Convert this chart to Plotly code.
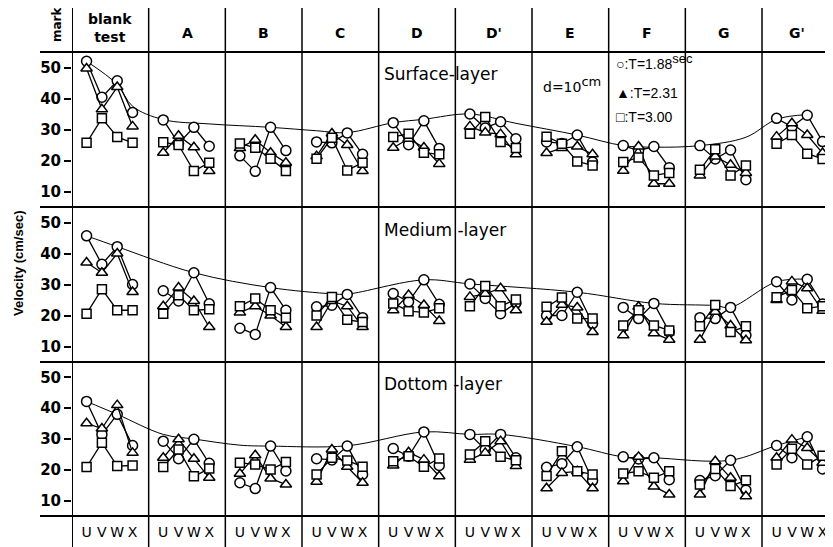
import plotly.graph_objects as go

W, H = 833, 547
PAGE_MARGIN = 8  # default body margin of the html page

# ---------------- data ----------------
columns = ["blank<br>test", "A", "B", "C", "D", "D'", "E", "F", "G", "G'"]
positions = ["U", "V", "W", "X"]
series_labels = ["○:T=1.88<sup><span style='font-size:13px'>sec</span></sup>", "▲:T=2.31", "□:T=3.00"]
layer_titles = ["Surface-layer", "Medium -layer", "Dottom -layer"]
y_ticks = [10, 20, 30, 40, 50]

# Surface layer (cm/sec), per column: U, V, W, X
surface_T188 = [[52, 40.4, 45.7, 35.5], [33.1, 25.5, 30.7, 24.6], [21.5, 16.5, 30.7, 23.2],
                [26, 25.7, 28.9, 22], [32.2, 25.1, 32.8, 23.9], [35, 30.5, 32.5, 27],
                [26, 25.5, 28.2, 19.5], [24.8, 23.2, 24.5, 17.7], [24.8, 20.5, 23.4, 13.8],
                [33.6, 30.9, 34.6, 26.1]]
surface_T231 = [[49.7, 36.5, 43.7, 31], [22.5, 28, 24.3, 16.6], [24, 26.7, 22.5, 19.3],
                [21.4, 28.7, 25, 16.6], [24.1, 27, 24.2, 18.9], [31, 29, 28.5, 22],
                [22.4, 24, 24.5, 22], [16.7, 24.5, 12.5, 12.5], [15.2, 21.3, 18.6, 16],
                [27.7, 32, 28.2, 22.4]]
surface_T300 = [[25.7, 33.6, 27.6, 25.7], [25.9, 25, 16.6, 19.3], [25.5, 24.1, 20.6, 16.6],
                [20.6, 27.3, 16.8, 19.3], [27.6, 28.6, 22.5, 22], [28.6, 34, 26, 24],
                [27.7, 25.4, 19.7, 18.4], [19.5, 21, 15.2, 16], [17, 23.6, 15.2, 18.4],
                [25.4, 28.2, 22.2, 20.5]]

# Medium layer
medium_T188 = [[45.7, 36.5, 42.2, 30], [28, 24.7, 33.8, 23.8], [15.9, 13.9, 29, 21.7],
               [22.8, 23.3, 26.8, 19.3], [27.1, 24.4, 31.5, 23.6], [30.2, 25.5, 20.6, 24],
               [20, 20, 27.5, 17.4], [22.6, 19, 23.9, 14.7], [19.3, 19, 22.6, 13.6],
               [30.9, 25, 31.7, 23.7]]
medium_T231 = [[37.1, 33.8, 40, 27.6], [23, 29, 24.7, 16.3], [21, 23, 20, 16.3],
               [16.3, 24.7, 23, 16.3], [21.7, 26.6, 23.4, 18.2], [26, 27, 28.8, 21.7],
               [18, 23.5, 22.6, 14.7], [13.6, 22.8, 14.3, 12.2], [12.2, 21.2, 16.8, 12],
               [25, 31, 28.8, 21.5]]
medium_T300 = [[20.6, 28.5, 21.7, 21.7], [20.6, 26.5, 21.7, 22], [23, 25.5, 21.7, 19.3],
               [20, 26, 18.6, 17.9], [23.9, 21.4, 21, 22.3], [23, 29.5, 23, 25.2],
               [22.8, 25.8, 19, 19], [16.8, 21.7, 16.8, 15.2], [16.5, 23.4, 14.7, 16.5],
               [25.9, 28.2, 22.3, 23]]

# Bottom layer
bottom_T188 = [[42.2, 31.5, 38, 27.9], [29.3, 23.6, 29.9, 22.1], [15.8, 13.9, 27.7, 19.6],
               [23.6, 23.2, 27.7, 18.5], [26.9, 24.4, 32.3, 21.4], [31.5, 26.6, 31.5, 23.9],
               [20.8, 22, 27.5, 16.5], [24.2, 23.5, 23.9, 16.8], [16.5, 18.1, 23.1, 13.4],
               [27.9, 23.9, 30.7, 20.3]]
bottom_T231 = [[35.1, 33.4, 41, 25.5], [23.9, 29.9, 23.6, 17.4], [18.7, 24.7, 17.2, 15.2],
               [16.1, 26.6, 21, 15.8], [21.4, 25.7, 23.3, 17.9], [23.3, 25.5, 29.3, 21.2],
               [14, 19, 19.5, 14], [16.3, 24.2, 14.6, 12], [12, 22.8, 17.4, 11.4],
               [23.9, 29.8, 27.1, 22.3]]
bottom_T300 = [[20.9, 28.8, 21.2, 21.4], [20.9, 26.6, 17.9, 20.4], [22.3, 21.7, 20.1, 22.5],
               [18.5, 23.9, 23, 21], [22.8, 24.4, 21, 23.7], [25, 29.3, 24.2, 23.1],
               [18, 26, 19.5, 18.5], [18.8, 19.5, 17.4, 19.5], [15.2, 20.3, 14.7, 16.6],
               [21.7, 26.8, 21.7, 24.6]]

# Upper envelope curves: (column index, position, velocity)
surface_env = [(0, "U", 52), (0, "W", 44.5), (0, "X", 37.5), (1, "U", 33.2), (1, "X", 31.8),
               (2, "W", 30.7), (3, "U", 29.6), (3, "W", 29), (4, "U", 32.2), (4, "W", 33.3),
               (5, "U", 35), (5, "X", 32), (6, "W", 28.2), (7, "U", 24.8), (7, "W", 24.3),
               (8, "U", 24.8), (8, "X", 27.5), (9, "U", 33.3), (9, "W", 34.8)]
medium_env = [(0, "U", 45.7), (0, "W", 42.2), (1, "W", 33.8), (2, "W", 29), (3, "V", 27),
              (3, "W", 26.9), (4, "W", 31.5), (5, "U", 30.2), (6, "W", 27.5), (7, "W", 23.9),
              (8, "V", 23.2), (8, "W", 22.6), (9, "U", 30.9), (9, "W", 31.7)]
bottom_env = [(0, "U", 42.2), (0, "W", 38), (1, "U", 31.5), (1, "W", 30), (2, "U", 28),
              (2, "W", 27.7), (3, "W", 27.8), (4, "W", 32.3), (5, "U", 31.5), (5, "W", 31.5),
              (6, "W", 27.5), (7, "U", 24.2), (7, "W", 23.9), (8, "W", 23.1), (9, "U", 27.9),
              (9, "W", 30.7)]

rows = [
    ([surface_T188, surface_T231, surface_T300], surface_env),
    ([medium_T188, medium_T231, medium_T300], medium_env),
    ([bottom_T188, bottom_T231, bottom_T300], bottom_env),
]

# ---------------- styling / geometry ----------------
FW, FH = W - PAGE_MARGIN, H - PAGE_MARGIN
X_OFF, X_STEP = 0.19, 0.2
X_MAX = 9.926
PLOT_LEFT = 72
row_px = [(52, 207), (207, 362), (362, 516)]
symbols = ["circle", "triangle-up", "square"]
sizes = [10, 10, 9]
FONT = "DejaVu Sans"


def xpos(c, p):
    return c + X_OFF + X_STEP * positions.index(p)


def px_x(px):
    return (px - PAGE_MARGIN) / FW


def px_y(px):
    return 1 - (px - PAGE_MARGIN) / FH


fig = go.Figure()

for r, (series, env) in enumerate(rows):
    xa = "x" if r == 0 else f"x{r+1}"
    ya = "y" if r == 0 else f"y{r+1}"
    ex = [xpos(c, p) for c, p, v in env]
    ey = [v for c, p, v in env]
    fig.add_trace(go.Scatter(x=ex, y=ey, mode="lines", xaxis=xa, yaxis=ya,
                             line=dict(color="black", width=1, shape="spline", smoothing=1.0),
                             showlegend=False, hoverinfo="skip"))
    for s, vals in enumerate(series):
        xs, ys = [], []
        for c, colvals in enumerate(vals):
            for p, v in zip(positions, colvals):
                xs.append(xpos(c, p))
                ys.append(v)
            xs.append(None)
            ys.append(None)
        fig.add_trace(go.Scatter(x=xs, y=ys, mode="lines+markers", xaxis=xa, yaxis=ya,
                                 line=dict(color="black", width=1.3),
                                 marker=dict(symbol=symbols[s], size=sizes[s], color="white",
                                             line=dict(color="black", width=1.5)),
                                 cliponaxis=False,
                                 showlegend=False, name=series_labels[s]))

layout = dict(width=FW, height=FH, margin=dict(l=0, r=0, t=0, b=0),
              paper_bgcolor="white", plot_bgcolor="white", showlegend=False,
              font=dict(family=FONT, color="black"))

tickx = [xpos(c, p) for c in range(len(columns)) for p in positions]
tickt = [p for c in range(len(columns)) for p in positions]

for r in range(3):
    xk = "xaxis" if r == 0 else f"xaxis{r+1}"
    yk = "yaxis" if r == 0 else f"yaxis{r+1}"
    top, bot = row_px[r]
    xa = dict(domain=[px_x(PLOT_LEFT), 1], range=[0, X_MAX], showgrid=False, zeroline=False,
              showline=False, anchor="y" if r == 0 else f"y{r+1}", fixedrange=True)
    if r == 2:
        xa.update(tickvals=tickx, ticktext=tickt, ticks="", ticklabelstandoff=6,
                  tickfont=dict(family=FONT, size=14, color="black"))
    else:
        xa.update(showticklabels=False, ticks="")
    layout[xk] = xa
    layout[yk] = dict(domain=[px_y(bot), px_y(top)], range=[5, 55], tickvals=y_ticks,
                      ticks="outside", ticklen=7, tickwidth=1.5, tickcolor="black",
                      showgrid=False, zeroline=False, showline=False,
                      anchor="x" if r == 0 else f"x{r+1}",
                      tickfont=dict(family=FONT, size=15, color="black", weight="bold"),
                      fixedrange=True)

fig.update_layout(**layout)

shapes = []
for ypx in [52, 207, 362, 516]:
    shapes.append(dict(type="line", xref="paper", yref="paper", x0=px_x(40), x1=1,
                       y0=px_y(ypx), y1=px_y(ypx), line=dict(color="black", width=2)))
for c in range(len(columns)):
    shapes.append(dict(type="line", xref="x", yref="paper", x0=c, x1=c, y0=0, y1=1,
                       line=dict(color="black", width=2 if c == 0 else 1.5)))
fig.update_layout(shapes=shapes)

ann = []
for c, name in enumerate(columns):
    cx = c + 0.5 if c < len(columns) - 1 else c + 0.46
    ann.append(dict(text=f"<b>{name}</b>", x=cx, y=px_y(28 if c == 0 else 33), xref="x",
                    yref="paper", xanchor="center", yanchor="middle", showarrow=False,
                    font=dict(family=FONT, size=14, color="black")))
ann.append(dict(text="<b>mark</b>", x=px_x(57), y=px_y(24), xref="paper", yref="paper",
                xanchor="center", yanchor="middle", textangle=-90, showarrow=False,
                font=dict(family=FONT, size=12, color="black")))
ann.append(dict(text="<b>Velocity (cm/sec)</b>", x=px_x(19), y=px_y(263), xref="paper",
                yref="paper", xanchor="center", yanchor="middle", textangle=-90,
                showarrow=False, font=dict(family="Liberation Sans", size=13, color="black")))
for r, t in enumerate(layer_titles):
    ann.append(dict(text=t, x=px_x(382), y=px_y([74, 230, 384][r]), xref="paper", yref="paper",
                    xanchor="left", yanchor="middle", showarrow=False,
                    font=dict(family=FONT, size=17, color="black")))
ann.append(dict(text="d=10<sup><span style='font-size:13px'>cm</span></sup>", x=px_x(541),
                y=px_y(84), xref="paper", yref="paper",
                xanchor="left", yanchor="middle", showarrow=False,
                font=dict(family=FONT, size=14, color="black")))
for i, (lbl, ypx) in enumerate(zip(series_labels, [61, 93, 117])):
    ann.append(dict(text=lbl, x=px_x(614), y=px_y(ypx), xref="paper", yref="paper",
                    xanchor="left", yanchor="middle", showarrow=False,
                    font=dict(family="Liberation Sans", size=14, color="black")))
fig.update_layout(annotations=ann)

fig.write_html("out.html")
